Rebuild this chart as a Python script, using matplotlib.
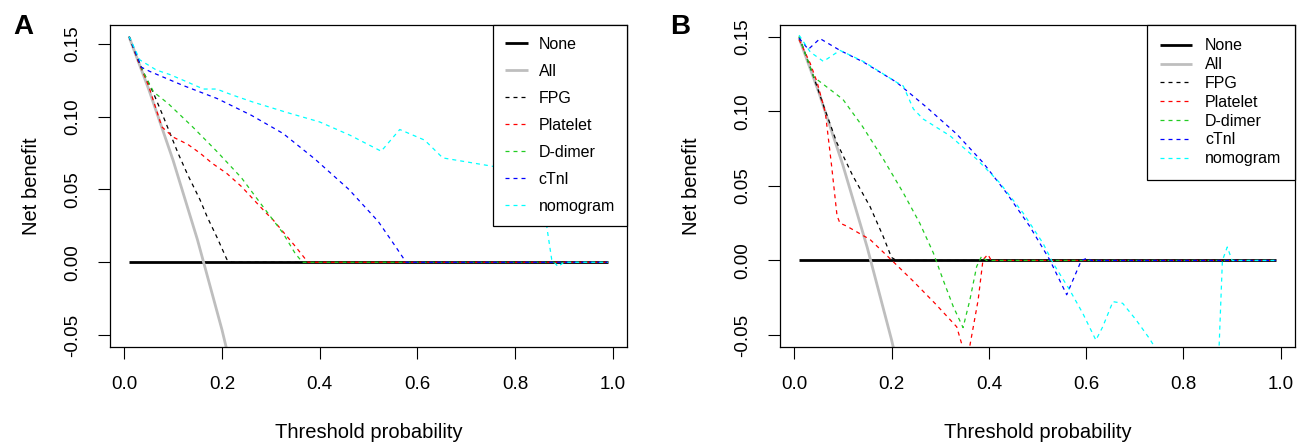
import matplotlib
matplotlib.use("Agg")
import matplotlib.pyplot as plt

plt.rcParams['font.family'] = ['Liberation Sans', 'DejaVu Sans']

##圖例名稱與顏色
labels = ["None", "All", "FPG", "Platelet", "D-dimer", "cTnl", "nomogram"]
colors = ["black", "#BEBEBE", "black", "red", "#22CC22", "blue", "cyan"]

##Panel A 資料 (threshold, net benefit)
a_none_x = [0.01, 0.99]
a_none_y = [0.0, 0.0]
a_all_x = [0.01, 0.05, 0.10, 0.15, 0.20, 0.25]
a_all_y = [0.1547, 0.1189, 0.070, 0.0153, -0.0463, -0.116]
a_fpg_x = [0.01, 0.03, 0.06, 0.08, 0.11, 0.13, 0.155, 0.17, 0.19, 0.21, 0.22, 0.99]
a_fpg_y = [0.155, 0.137, 0.116, 0.100, 0.075, 0.060, 0.043, 0.031, 0.017, 0.002, 0.0, 0.0]
a_plt_x = [0.01, 0.03, 0.05, 0.077, 0.10, 0.13, 0.155, 0.18, 0.21, 0.24, 0.265, 0.29,
           0.305, 0.33, 0.35, 0.376, 0.99]
a_plt_y = [0.155, 0.137, 0.121, 0.093, 0.086, 0.081, 0.075, 0.068, 0.061, 0.052, 0.043, 0.034,
           0.029, 0.019, 0.011, 0.0, 0.0]
a_ddim_x = [0.01, 0.04, 0.06, 0.09, 0.14, 0.19, 0.24, 0.28, 0.325, 0.35, 0.365, 0.99]
a_ddim_y = [0.155, 0.130, 0.117, 0.109, 0.093, 0.076, 0.058, 0.040, 0.020, 0.006, 0.0, 0.0]
a_ctnl_x = [0.01, 0.035, 0.053, 0.12, 0.19, 0.26, 0.325, 0.39, 0.46, 0.52, 0.555, 0.577, 0.99]
a_ctnl_y = [0.155, 0.134, 0.131, 0.1215, 0.1125, 0.101, 0.0885, 0.071, 0.050, 0.028, 0.011, 0.0, 0.0]
a_nomo_x = [0.01, 0.032, 0.066, 0.093, 0.128, 0.162, 0.189, 0.223, 0.264, 0.332, 0.40, 0.462,
            0.526, 0.564, 0.615, 0.652, 0.70, 0.76, 0.80, 0.85, 0.875, 0.888, 0.90, 0.99]
a_nomo_y = [0.155, 0.139, 0.132, 0.129, 0.124, 0.119, 0.119, 0.1147, 0.110, 0.103, 0.0964, 0.0873,
            0.0763, 0.0912, 0.0839, 0.0717, 0.069, 0.0656, 0.063, 0.058, 0.002, -0.003, 0.0, 0.0]

##Panel B 資料
b_none_x = [0.01, 0.99]
b_none_y = [0.0, 0.0]
b_all_x = [0.01, 0.05, 0.10, 0.15, 0.20, 0.25]
b_all_y = [0.149, 0.1132, 0.0639, 0.0088, -0.0531, -0.1233]
b_fpg_x = [0.01, 0.04, 0.06, 0.0875, 0.12, 0.156, 0.183, 0.20, 0.21, 0.99]
b_fpg_y = [0.150, 0.123, 0.104, 0.079, 0.057, 0.036, 0.016, 0.002, 0.0, 0.0]
b_plt_x = [0.01, 0.033, 0.047, 0.064, 0.077, 0.088, 0.094, 0.108, 0.156, 0.204, 0.245, 0.29,
           0.334, 0.355, 0.378, 0.388, 0.398, 0.405, 0.99]
b_plt_y = [0.148, 0.132, 0.1195, 0.099, 0.063, 0.030, 0.025, 0.023, 0.014, -0.001, -0.014, -0.029,
           -0.0445, -0.068, -0.0265, 0.0005, 0.004, 0.0, 0.0]
b_ddim_x = [0.01, 0.04, 0.06, 0.10, 0.14, 0.183, 0.224, 0.258, 0.286, 0.306, 0.327, 0.347,
            0.361, 0.375, 0.385, 0.395, 0.99]
b_ddim_y = [0.150, 0.123, 0.118, 0.108, 0.090, 0.068, 0.0454, 0.025, 0.005, -0.013, -0.031, -0.045,
            -0.0265, -0.004, 0.0027, 0.0, 0.0]
b_ctnl_x = [0.01, 0.029, 0.053, 0.094, 0.142, 0.21, 0.272, 0.334, 0.388, 0.436, 0.484, 0.525,
            0.56, 0.59, 0.603, 0.61, 0.99]
b_ctnl_y = [0.149, 0.1415, 0.1487, 0.1408, 0.133, 0.1195, 0.1027, 0.0847, 0.0656, 0.0454, 0.0229, 0.0005,
            -0.023, 0.0, 0.0016, 0.0, 0.0]
b_nomo_x = [0.01, 0.033, 0.06, 0.094, 0.142, 0.21, 0.224, 0.245, 0.265, 0.32, 0.375, 0.422,
            0.47, 0.511, 0.532, 0.566, 0.593, 0.62, 0.634, 0.655, 0.675, 0.703, 0.73, 0.76,
            0.80, 0.84, 0.87, 0.88, 0.89, 0.90, 0.99]
b_nomo_y = [0.151, 0.1397, 0.1334, 0.1408, 0.1334, 0.1195, 0.117, 0.1015, 0.0948, 0.0836, 0.0679, 0.0522,
            0.032, 0.0117, -0.0018, -0.0197, -0.0354, -0.0534, -0.0445, -0.0276, -0.0287, -0.040, -0.0523, -0.068,
            -0.085, -0.09, -0.085, 0.0, 0.009, 0.0, 0.0]

yticks = [-0.05, 0.0, 0.05, 0.10, 0.15]
ytick_labels = ["-0.05", "0.00", "0.05", "0.10", "0.15"]
xticks = [0.0, 0.2, 0.4, 0.6, 0.8, 1.0]
xtick_labels = ["0.0", "0.2", "0.4", "0.6", "0.8", "1.0"]


def dcaPanel(ax, series, ylim, legend_kw, ylabel_x):
    ##畫線: None / All 實線, 其餘虛線
    for i, (x, y) in enumerate(series):
        if i < 2:
            ax.plot(x, y, color=colors[i], lw=2.0, label=labels[i], solid_capstyle="butt")
        else:
            ax.plot(x, y, color=colors[i], lw=0.9, dashes=(3.2, 3.2), label=labels[i])
    ax.set_xlim(-0.0292, 1.0292)
    ax.set_ylim(*ylim)
    ax.set_xticks(xticks)
    ax.set_xticklabels(xtick_labels)
    ax.set_yticks(yticks)
    ax.set_yticklabels(ytick_labels, rotation=90, va="center")
    ax.tick_params(direction="out", length=8.6, width=0.8, labelsize=13.5, pad=12)
    for s in ax.spines.values():
        s.set_linewidth(0.9)
    ax.set_xlabel("Threshold probability", fontsize=14.5, va="center")
    ax.xaxis.set_label_coords(0.5, -0.264)
    ax.set_ylabel("Net benefit", fontsize=14.5, va="center")
    ax.yaxis.set_label_coords(ylabel_x, 0.5)
    leg = ax.legend(loc="upper right", bbox_to_anchor=(1, 1), borderaxespad=0, fontsize=11.5,
                    fancybox=False, framealpha=1, edgecolor="black", **legend_kw)
    leg.get_frame().set_linewidth(0.9)


fig = plt.figure(figsize=(12.98, 4.43), dpi=100)
ax_a = fig.add_axes([110 / 1298, 96 / 443, 517 / 1298, 322.3 / 443])
ax_b = fig.add_axes([780 / 1298, 96 / 443, 515 / 1298, 322.3 / 443])

series_a = [(a_none_x, a_none_y), (a_all_x, a_all_y), (a_fpg_x, a_fpg_y), (a_plt_x, a_plt_y),
            (a_ddim_x, a_ddim_y), (a_ctnl_x, a_ctnl_y), (a_nomo_x, a_nomo_y)]
series_b = [(b_none_x, b_none_y), (b_all_x, b_all_y), (b_fpg_x, b_fpg_y), (b_plt_x, b_plt_y),
            (b_ddim_x, b_ddim_y), (b_ctnl_x, b_ctnl_y), (b_nomo_x, b_nomo_y)]

dcaPanel(ax_a, series_a, (-0.0582, 0.1632),
         dict(handlelength=1.4, handletextpad=0.7, borderpad=0.75, labelspacing=0.75), -0.151)
dcaPanel(ax_b, series_b, (-0.058, 0.158),
         dict(handlelength=1.95, handletextpad=0.85, borderpad=0.85, labelspacing=0.24), -0.171)

fig.text(23 / 1298, 1 - 27 / 443, "A", fontsize=20, fontweight="bold", ha="center", va="center")
fig.text(680 / 1298, 1 - 27 / 443, "B", fontsize=20, fontweight="bold", ha="center", va="center")

fig.savefig("out.png", dpi=100)
